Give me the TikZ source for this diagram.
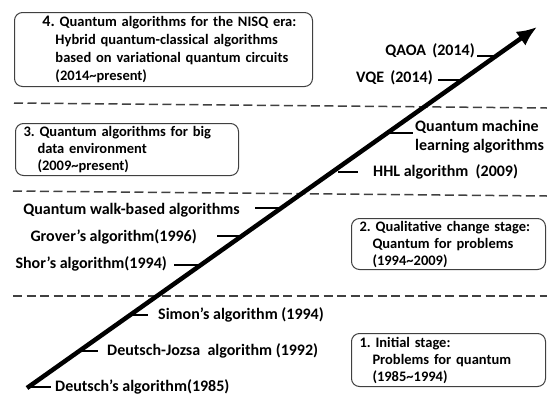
\documentclass[tikz,border=0pt]{standalone}
\usepackage{fontspec}
\setmainfont{Carlito}
\usetikzlibrary{arrows.meta}
\frenchspacing
\hyphenpenalty=10000\relax
\begin{document}
\begin{tikzpicture}[x=1pt,y=-1pt,
  lbl/.style={font=\fontsize{16}{19}\selectfont\bfseries, inner sep=0pt},
  stagebox/.style={draw=black!75, line width=1pt, rounded corners=8pt, align=left,
    inner xsep=8pt, inner ysep=0pt, anchor=north west,
    font=\fontsize{14.5}{17}\selectfont\bfseries},
  sepline/.style={draw=black!75, line width=1.5pt, dash pattern=on 9pt off 4.5pt},
  tick/.style={line width=1.5pt},
  mainarrow/.style={line width=4.5pt, -{Latex[length=20pt,width=17pt]}}]
\useasboundingbox (0,0) rectangle (547,397);

% separators
\coordinate (l1a) at (14,103); \coordinate (l1b) at (547,108);
\coordinate (l2a) at (13,191); \coordinate (l2b) at (547,196);
\coordinate (l3a) at (13,296); \coordinate (l3b) at (547,296);
\draw[sepline] (l1a) -- (l1b);
\draw[sepline] (l2a) -- (l2b);
\draw[sepline] (l3a) -- (l3b);

% stage boxes
\node[stagebox, text width=282pt, minimum width=298pt, minimum height=74pt,
      font=\fontsize{14.5}{18}\selectfont\bfseries] (b4) at (14,12)
  {\hspace*{20pt}{\fontsize{16}{18}\selectfont 4.} Quantum algorithms for the NISQ era:\\
   \hspace*{33pt}Hybrid quantum-classical algorithms\\
   \hspace*{33pt}based on variational quantum circuits\\
   \hspace*{33pt}(2014\textasciitilde present)};
\node[stagebox, text width=207pt, minimum width=223pt, minimum height=52pt] (b3) at (15,123)
  {3. Quantum algorithms for big\\
   \hspace*{14pt}data environment\\
   \hspace*{14pt}(2009\textasciitilde present)};
\node[stagebox, text width=178pt, minimum width=194pt, minimum height=51pt] (b2) at (351,218)
  {2. Qualitative change stage:\\
   \hspace*{13pt}Quantum for problems\\
   \hspace*{13pt}(1994\textasciitilde 2009)};
\node[stagebox, text width=178pt, minimum width=194pt, minimum height=53pt] (b1) at (351,333)
  {1. Initial stage:\\
   \hspace*{13pt}Problems for quantum\\
   \hspace*{13pt}(1985\textasciitilde 1994)};

% main arrow
\coordinate (s) at (27,388);
\coordinate (e) at (537,27);
\draw[mainarrow] (s) -- (e);

% points on the arrow
\coordinate (kqaoa) at (495,56);
\coordinate (kvqe) at (460,80);
\coordinate (kqml) at (389,133);
\coordinate (khhl) at (334,172);
\coordinate (kwalk) at (280,208);
\coordinate (kgro) at (241,236);
\coordinate (ksho) at (199,265);
\coordinate (ksim) at (131,315);
\coordinate (kdj) at (80,351);
\coordinate (kdeu) at (28,387);

% labels
\node[lbl, anchor=east] (qaoa) at (475,51) {QAOA\ \,(2014)};
\node[lbl, anchor=east] (vqe) at (433,78) {VQE\ \,(2014)};
\node[lbl, anchor=west, align=left] (qml) at (415,137) {Quantum machine\\learning algorithms};
\node[lbl, anchor=west] (hhl) at (373,172) {HHL algorithm\ \ (2009)};
\node[lbl, anchor=east] (walk) at (240,210) {Quantum walk-based algorithms};
\node[lbl, anchor=east] (gro) at (197,237) {Grover’s algorithm(1996)};
\node[lbl, anchor=east] (sho) at (167,264) {Shor’s algorithm(1994)};
\node[lbl, anchor=west] (sim) at (158,315) {Simon’s algorithm (1994)};
\node[lbl, anchor=west] (dj) at (107,351) {Deutsch-Jozsa\ \ algorithm (1992)};
\node[lbl, anchor=west] (deu) at (55,387) {Deutsch’s algorithm(1985)};

% ticks
\draw[tick] ([xshift=2pt]qaoa.east |- kqaoa) -- (kqaoa);
\draw[tick] ([xshift=5pt]vqe.east |- kvqe) -- (kvqe);
\draw[tick] (kqml) -- ([xshift=-2pt]qml.west |- kqml);
\draw[tick] ([xshift=4pt]khhl) -- ([xshift=-15pt]hhl.west |- khhl);
\draw[tick] ([xshift=15pt]walk.east |- kwalk) -- (kwalk);
\draw[tick] ([xshift=20pt]gro.east |- kgro) -- (kgro);
\draw[tick] ([xshift=7pt]sho.east |- ksho) -- (ksho);
\draw[tick] (ksim) -- ([xshift=-10pt]sim.west |- ksim);
\draw[tick] (kdj) -- ([xshift=-9pt]dj.west |- kdj);
\draw[tick] (kdeu) -- ([xshift=-4pt]deu.west |- kdeu);
\end{tikzpicture}
\end{document}
